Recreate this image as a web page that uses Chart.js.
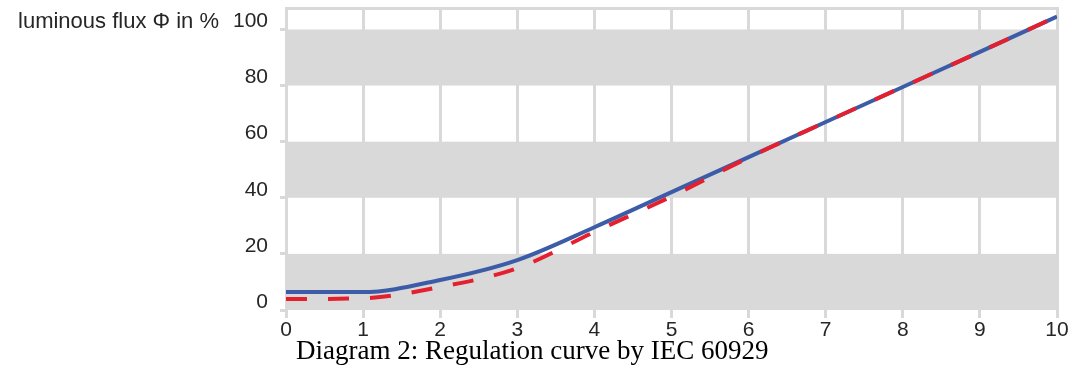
<!DOCTYPE html>
<html lang="en">
<head>
  <meta charset="UTF-8" />
  <title>Regulation curve by IEC 60929</title>
  <script src="https://cdn.jsdelivr.net/npm/chart.js"></script>
  <style>
    body { margin: 0; background: #fff; }
    #wrap { position: relative; width: 1073px; height: 367px; }
    #caption { position: absolute; left: 296px; top: 337px; font-family: "Liberation Serif", "Times New Roman", serif; font-size: 27px; line-height: 1; color: #000; white-space: nowrap; }
  </style>
</head>
<body>
  <div id="wrap">
    <canvas id="curve" width="1073" height="367"></canvas>
    <div id="caption">Diagram 2: Regulation curve by IEC 60929</div>
  </div>

  <script>
    // control voltage in V (x) and luminous flux in % (y)
    const voltage = [0, 1, 2, 3, 4, 5, 6, 7, 8, 9, 10];
    const fluxSolid = [6.4, 6.4, 10.7, 17.8, 29.5, 42, 54.5, 67, 79.5, 92, 104.6];
    const fluxDashed = [3.9, 4.2, 8.2, 14.9, 27.8, 40.5, 54.3, 67, 79.5, 92, 104.6];
    const xTicks = [0, 1, 2, 3, 4, 5, 6, 7, 8, 9, 10];
    const yTicks = [0, 20, 40, 60, 80, 100];
    const yMax = 108;
    // white stripes, the rest of the plot is grey
    const whiteBands = [[20, 40], [60, 80], [100, yMax]];
    const yTitle = 'luminous flux \u03a6 in %';

    const GREY = '#d9d9d9';
    const TEXT = '#262626';
    const FONT = "'Liberation Sans', Arial, sans-serif";

    const bands = {
      id: 'bands',
      beforeDraw(chart) {
        const { ctx, chartArea: a, scales: { y } } = chart;
        ctx.save();
        ctx.fillStyle = GREY;
        ctx.fillRect(a.left, a.top, a.right - a.left, a.bottom - a.top);
        ctx.fillStyle = '#fff';
        whiteBands.forEach(([lo, hi]) => {
          const top = y.getPixelForValue(hi) + (hi >= yMax ? 3 : 0);
          const bot = y.getPixelForValue(lo);
          ctx.fillRect(a.left, top, a.right - a.left, bot - top);
        });
        ctx.restore();
      },
      afterDraw(chart) {
        const { ctx, scales: { y } } = chart;
        ctx.save();
        ctx.font = '22px ' + FONT;
        ctx.fillStyle = TEXT;
        ctx.textAlign = 'right';
        ctx.textBaseline = 'middle';
        ctx.fillText(yTitle, 219, y.getPixelForValue(100) - 8);
        ctx.restore();
      }
    };

    const noPad = s => { s.paddingTop = 0; s.paddingBottom = 0; s.paddingLeft = 0; s.paddingRight = 0; };

    new Chart(document.getElementById('curve'), {
      type: 'line',
      data: {
        datasets: [
          {
            label: 'dashed',
            data: voltage.map((v, i) => ({ x: v, y: fluxDashed[i] })),
            borderColor: '#e5202e',
            borderWidth: 4,
            borderDash: [21, 21],
            pointRadius: 0,
            cubicInterpolationMode: 'monotone',
            order: 0
          },
          {
            label: 'solid',
            data: voltage.map((v, i) => ({ x: v, y: fluxSolid[i] })),
            borderColor: '#3d5ca8',
            borderWidth: 4,
            pointRadius: 0,
            cubicInterpolationMode: 'monotone',
            order: 1
          }
        ]
      },
      options: {
        responsive: false,
        animation: false,
        layout: { padding: { top: 7, right: 16, left: 0, bottom: 0 } },
        plugins: { legend: { display: false }, tooltip: { enabled: false } },
        scales: {
          x: {
            type: 'linear',
            min: 0,
            max: 10,
            afterBuildTicks: s => { s.ticks = xTicks.map(v => ({ value: v })); },
            afterFit: s => { s.height = 57; noPad(s); },
            grid: { color: GREY, lineWidth: 3, tickLength: 8 },
            border: { display: false },
            ticks: { color: TEXT, font: { family: FONT, size: 21 }, padding: 0, maxRotation: 0 }
          },
          y: {
            min: 0,
            max: yMax,
            afterBuildTicks: s => { s.ticks = yTicks.map(v => ({ value: v })); },
            afterFit: s => { s.width = 286; noPad(s); },
            grid: { color: GREY, lineWidth: 3, tickLength: 6, drawOnChartArea: false },
            border: { display: false },
            ticks: { color: TEXT, font: { family: FONT, size: 21 }, padding: 12, labelOffset: -8 }
          }
        }
      },
      plugins: [bands]
    });
  </script>
</body>
</html>
